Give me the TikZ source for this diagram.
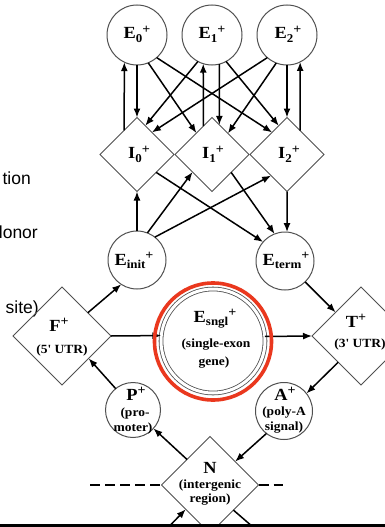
\documentclass[tikz,border=0pt]{standalone}
\usepackage{fontspec}
\setmainfont{Liberation Serif}
\newfontfamily\lblfont[FakeStretch=1.08]{Liberation Serif}
\newfontfamily\sidefont{Liberation Sans}
\usetikzlibrary{shapes.geometric,arrows.meta}
\definecolor{ringred}{RGB}{234,56,30}
\definecolor{edgegray}{RGB}{80,80,80}
\newcommand\Sb[1]{\raisebox{-0.22em}{\fontsize{12}{12}\selectfont #1}}
\newcommand\Sp[1]{\raisebox{0.32em}{\fontsize{13}{13}\selectfont #1}}
\begin{document}
\begin{tikzpicture}[x=1pt,y=-1pt,
  circ/.style={circle,draw=edgegray,line width=1pt,inner sep=0pt,outer sep=0pt,minimum size=#1},
  dia/.style={diamond,draw=edgegray,line width=1pt,inner sep=0pt,outer sep=0pt,minimum width=#1,minimum height=#1,aspect=1},
  arr/.style={line width=1.5pt,-{Latex[length=9pt,width=7pt]}},
  lab/.style={font=\lblfont\bfseries\fontsize{17}{17}\selectfont,inner sep=0pt,anchor=base},
  sml/.style={font=\lblfont\bfseries\fontsize{12.5}{12.5}\selectfont,inner sep=0pt},
  side/.style={font=\sidefont\fontsize{17.5}{17.5}\selectfont,inner sep=0pt,anchor=base east},
  dsh/.style={line width=1.4pt,dash pattern=on 10pt off 5pt}]
\useasboundingbox (0,0) rectangle (385,527);
\fill[white] (0,0) rectangle (385,527);

% side text fragments
\node[side] (s1) at (31,184) {tion};
\node[side] (s2) at (38,238) {lonor};
\node[side] (s3) at (39,313) {site)};

% shapes
\node[circ=60pt] (E0) at (137,35) {};
\node[circ=60pt] (E1) at (212,35) {};
\node[circ=60pt] (E2) at (287,35) {};
\node[dia=74pt] (I0) at (137,154.5) {};
\node[dia=74pt] (I1) at (212,154.5) {};
\node[dia=74pt] (I2) at (287,154.5) {};
\node[circ=58pt] (Ei) at (137,260) {};
\node[circ=58pt] (Et) at (285,261) {};
\node[circle,draw=edgegray,line width=0.8pt,double=white,double distance=3pt,inner sep=0pt,outer sep=0pt,minimum size=104pt] (Es) at (213,341) {};
\node[dia=98pt] (F) at (62,336) {};
\node[dia=98pt] (T) at (361,336) {};
\node[circ=55pt] (P) at (133,410) {};
\node[circ=57pt] (A) at (284,411) {};
\node[dia=97pt] (N) at (210,485) {};

% labels
\node[lab] (tE0) at (137,39) {E\Sb{0}\Sp{+}};
\node[lab] (tE1) at (212,39) {E\Sb{1}\Sp{+}};
\node[lab] (tE2) at (288,39) {E\Sb{2}\Sp{+}};
\node[lab] (tI0) at (139,158.5) {I\Sb{0}\Sp{+}};
\node[lab] (tI1) at (213,158.5) {I\Sb{1}\Sp{+}};
\node[lab] (tI2) at (289,158.5) {I\Sb{2}\Sp{+}};
\node[lab] (tEi) at (134,265) {E\Sb{init}\Sp{+}};
\node[lab] (tEt) at (286,265) {E\Sb{term}\Sp{+}};
\node[lab] (tEs) at (215,322) {E\Sb{sngl}\Sp{+}};
\node[sml] (tEs2) at (216,345) {(single-exon};
\node[sml] (tEs3) at (214,363) {gene)};
\node[lab] (tF) at (59,331) {F\Sp{+}};
\node[sml] (tF2) at (62,350) {(5' UTR)};
\node[lab] (tT) at (356,327) {T\Sp{+}};
\node[sml] (tT2) at (360,344) {(3' UTR)};
\node[lab] (tP) at (136,400) {P\Sp{+}};
\node[sml] (tP2) at (135,413) {(pro-};
\node[sml] (tP3) at (133,428) {moter)};
\node[lab] (tA) at (285,400) {A\Sp{+}};
\node[sml] (tA2) at (284,413) {(poly-A};
\node[sml] (tA3) at (284,428) {signal)};
\node[lab] (tN) at (210,473) {N};
\node[sml] (tN2) at (210,486) {(intergenic};
\node[sml] (tN3) at (210,500) {region)};

% top: E <-> I
\draw[arr] (I0.118.4) -- (E0.-115.7);
\draw[arr] (E0.south) -- (I0.north);
\draw[arr] (I1.107.8) -- (E1.-107.5);
\draw[arr] (E1.-76.5) -- (I1.76.9);
\draw[arr] (E2.south) -- (I2.north);
\draw[arr] (I2.61.6) -- (E2.-64.3);
\draw[arr] (E0.-68.5) -- (I1.126.5);
\draw[arr] (E0.-49) -- (I2.124);
\draw[arr] (E1.-118) -- (I0.74);
\draw[arr] (E1.-62) -- (I2.106);
\draw[arr] (E2.-131) -- (I0.56);
\draw[arr] (E2.-111.5) -- (I1.53.5);

% middle
\draw[arr] (Ei.north) -- (I0.south);
\draw[arr] (Ei.69.7) -- (I1.-138);
\draw[arr] (Ei.52) -- (I2.-127.3);
\draw[arr] (I0.-43.5) -- (Et.139);
\draw[arr] (I1.-43.5) -- (Et.111);
\draw[arr] (I2.south) -- (Et.86);

% lower
\draw[arr] (F.42.7) -- (Ei.-123);
\draw[arr] (F.east) -- (Es.174.5);
\draw[arr] (Es.5.5) -- (T.west);
\draw[arr] (Et.-46.2) -- (T.137.3);
\draw[arr] (T.-131.5) -- (A.38);
\draw[arr] (A.-128.4) -- (N.43.3);
\draw[arr] (N.132.6) -- (P.-42.8);
\draw[arr] (P.129) -- (F.-40.4);

% intergenic dashes
\coordinate (dl) at (90,485);
\coordinate (dr) at (283,485);
\draw[dsh] (dl) -- (N.west);
\draw[dsh] (N.east) -- (dr);

% cut-off connectors below N
\begin{scope}
\clip (0,0) rectangle (385,524);
\coordinate (b1) at (156,540);
\coordinate (b2) at (268,540);
\draw[arr] (b1) -- (N.-135);
\draw[line width=1.5pt] (N.-47.4) -- (b2);
\end{scope}

% highlight ring
\node[circle,draw=ringred,line width=3.6pt,inner sep=0pt,outer sep=0pt,minimum size=117pt] (ring) at (213,341.5) {};

% bottom rule
\coordinate (r1) at (0,525.5);
\coordinate (r2) at (385,525.5);
\draw[line width=2.2pt] (r1) -- (r2);
\end{tikzpicture}
\end{document}
